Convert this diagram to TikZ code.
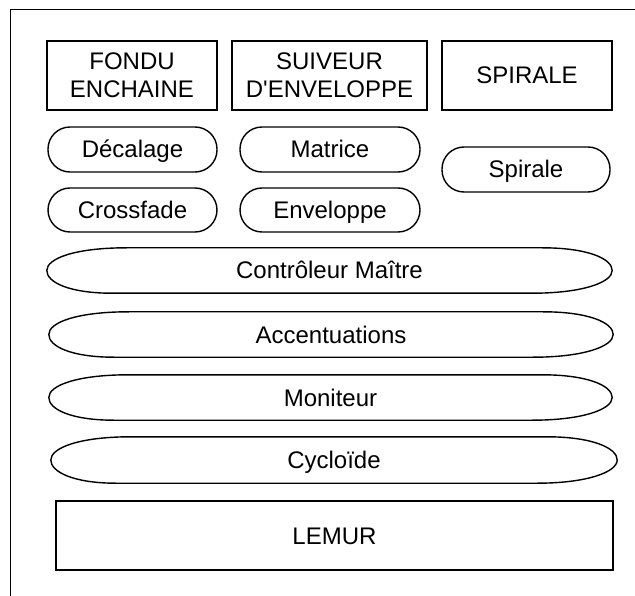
\documentclass[tikz,border=0pt]{standalone}
\usepackage{fontspec}
\setmainfont{Liberation Sans}[Ligatures=TeXOff]
\usetikzlibrary{calc}
\tikzset{
  lbl/.style={font=\fontsize{24}{28}\selectfont, align=center, inner sep=0pt},
  oneline/.style={text height=17pt, text depth=0pt},
  boxnode/.style={lbl, draw, line width=1.4pt, rectangle},
  pillnode/.style={lbl, oneline, draw, line width=1.4pt, rectangle, rounded corners=22pt},
  lozbase/.style={lbl, oneline, rectangle},
  lozline/.style={line width=1.4pt},
  framel/.style={line width=1pt}
}
\newcommand\lozpath[1]{%
  \draw[lozline] (#1.west) .. controls +(0,-12) and +(-52,0) .. ($(#1.north west)+(80,0)$)
    -- ($(#1.north east)+(-70,0)$) .. controls +(45,0) and +(0,-12) .. (#1.east)
    .. controls +(0,12) and +(50,0) .. ($(#1.south east)+(-80,0)$)
    -- ($(#1.south west)+(65,0)$) .. controls +(-42,0) and +(0,12) .. (#1.west) -- cycle;}
\begin{document}
\begin{tikzpicture}[x=1pt,y=-1pt]
\useasboundingbox (0,0) rectangle (635,596);
\draw[framel] (10,596) -- (10,10) -- (635,10);
\node[boxnode, minimum width=170, minimum height=69] (fondu) at (132,75.5) {FONDU\\ENCHAINE};
\node[boxnode, minimum width=195, minimum height=69] (suiveur) at (329.5,75.5) {SUIVEUR\\D'ENVELOPPE};
\node[boxnode, oneline, minimum width=170, minimum height=69] (spiraleB) at (527,75.5) {SPIRALE};
\node[pillnode, minimum width=169, minimum height=45] (decalage) at (132.5,149.5) {Décalage};
\node[pillnode, minimum width=180, minimum height=45] (matrice) at (330,149.5) {Matrice};
\node[pillnode, minimum width=169, minimum height=44] (crossfade) at (132.5,210) {Crossfade};
\node[pillnode, minimum width=180, minimum height=44] (enveloppe) at (330,210) {Enveloppe};
\node[pillnode, minimum width=168, minimum height=45] (spiraleP) at (526,169.5) {Spirale};
\node[lozbase, minimum width=565, minimum height=45] (controleur) at (329.5,270.5) {Contrôleur Maître};
\node[lozbase, minimum width=564, minimum height=45] (accent) at (331,334.5) {Accentuations};
\node[lozbase, minimum width=563, minimum height=45] (moniteur) at (330.5,397.5) {Moniteur};
\node[lozbase, minimum width=566, minimum height=46] (cycloide) at (334,460) {Cycloïde};
\lozpath{controleur}
\lozpath{accent}
\lozpath{moniteur}
\lozpath{cycloide}
\node[boxnode, oneline, minimum width=557, minimum height=69] (lemur) at (334.5,535.5) {LEMUR};
\end{tikzpicture}
\end{document}
